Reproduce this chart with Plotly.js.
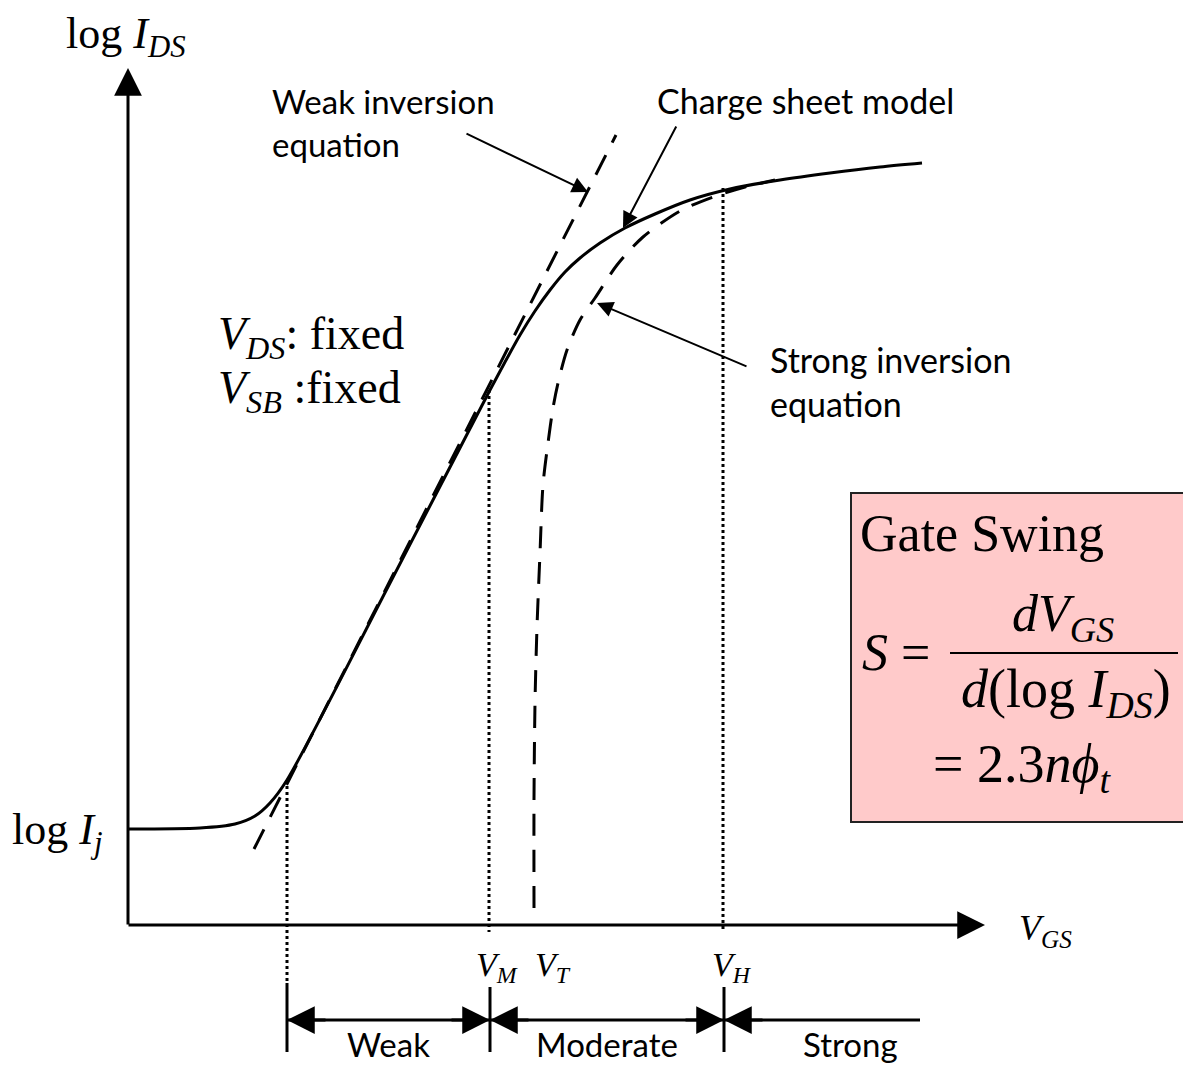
<!DOCTYPE html>
<html>
<head>
<meta charset="utf-8">
<script src="https://cdn.plot.ly/plotly-3.0.1.min.js"></script>
<style>html,body{margin:0;padding:0;background:#fff;}#chart{width:1183px;height:1067px;}</style>
</head>
<body>
<div id="chart"></div>
<script>
// ---- data (drawing units: x to the right, y downward) ----
const chargeSheetX = [128, 200, 235, 255, 270, 287, 390, 490, 505, 520, 535, 550, 565, 580, 600, 625, 655, 690, 730, 780, 830, 880, 922];
const chargeSheetY = [829, 828, 824, 816, 803, 780, 583, 390, 362, 335, 311, 290, 272, 258, 243, 228, 214, 200, 189, 180, 173, 167, 163];

const weakEqX = [254, 616];
const weakEqY = [849, 135];

const strongEqX = [534, 534, 535, 537, 540, 543, 548, 553, 558, 567, 580, 595, 617, 643, 680, 713, 745, 775];
const strongEqY = [908, 800, 703, 627, 553, 485, 443, 408, 383, 350, 320, 298, 265, 237, 211, 197, 187, 180];

// dotted guide lines: x position, top y, bottom y
const guideX = [287, 489, 723];
const guideTop = [780, 390, 188];
const guideBottom = [983, 932, 932];

// region boundaries and names
const regionEdges = [287, 490, 724, 920];
const regionNames = ['Weak', 'Moderate', 'Strong'];

// voltage tick labels
const voltLabels = ['<i>V</i><sub><i>M</i></sub>', '<i>V</i><sub><i>T</i></sub>', '<i>V</i><sub><i>H</i></sub>'];
const voltLabelX = [497, 553, 732];

// ---- traces ----
const serif = 'Liberation Serif, Times New Roman, serif';
const sans = 'Lato, Open Sans, sans-serif';
const traces = [];
for (let i = 0; i < guideX.length; i++) {
  traces.push({x: [guideX[i], guideX[i]], y: [guideTop[i], guideBottom[i]], mode: 'lines',
    line: {color: '#000', width: 3, dash: 'dot'}, hoverinfo: 'skip'});
}
traces.push({x: weakEqX, y: weakEqY, mode: 'lines', line: {color: '#000', width: 3, dash: '22px,14px'}, hoverinfo: 'skip'});
traces.push({x: strongEqX, y: strongEqY, mode: 'lines', line: {color: '#000', width: 3, dash: '22px,14px', shape: 'spline', smoothing: 0.8}, hoverinfo: 'skip'});
traces.push({x: chargeSheetX, y: chargeSheetY, mode: 'lines', line: {color: '#000', width: 3, shape: 'spline', smoothing: 0.8}, hoverinfo: 'skip'});

// ---- shapes ----
const shapes = [
  {type: 'rect', xref: 'x', yref: 'y', x0: 851, x1: 1195, y0: 493, y1: 822, fillcolor: '#FFCACA', line: {color: '#222', width: 2}, layer: 'below'},
  {type: 'line', xref: 'x', yref: 'y', x0: 950, x1: 1178, y0: 653, y1: 653, line: {color: '#000', width: 2}},
  {type: 'line', xref: 'x', yref: 'y', x0: regionEdges[0], x1: regionEdges[3], y0: 1020, y1: 1020, line: {color: '#000', width: 3}}
];
const tickTop = [983, 987, 987];
for (let i = 0; i < 3; i++) {
  shapes.push({type: 'line', xref: 'x', yref: 'y', x0: regionEdges[i], x1: regionEdges[i], y0: tickTop[i], y1: 1052, line: {color: '#000', width: 3}});
}

// ---- annotations ----
const ann = [];
function arrow(tipX, tipY, tailX, tailY, w, size) {
  ann.push({x: tipX, y: tipY, ax: tailX, ay: tailY, xref: 'x', yref: 'y', axref: 'x', ayref: 'y',
    text: '', showarrow: true, arrowhead: 2, arrowsize: size, arrowwidth: w, arrowcolor: '#000', standoff: 0, startstandoff: 0});
}
// axes
arrow(128, 68, 128, 926, 3, 1.85);
arrow(985, 925, 127, 925, 3, 1.85);
// region dimension arrowheads
for (let i = 0; i < 2; i++) {
  arrow(regionEdges[i], 1020, regionEdges[i] + 40, 1020, 3, 1.85);
  arrow(regionEdges[i + 1], 1020, regionEdges[i + 1] - 40, 1020, 3, 1.85);
}
arrow(regionEdges[2], 1020, regionEdges[2] + 40, 1020, 3, 1.85);
// callout arrows
arrow(588, 192, 465, 133, 2, 1.6);
arrow(623, 228, 677, 125, 2, 1.6);
arrow(597, 303, 748, 367, 2, 1.6);

function txt(x, y, text, size, family, xanchor, extra) {
  ann.push(Object.assign({x: x, y: y, xref: 'x', yref: 'y', text: text, showarrow: false,
    xanchor: xanchor || 'center', yanchor: 'middle', align: 'left',
    font: {family: family, size: size, color: '#000'}}, extra || {}));
}
txt(126, 36, 'log <i>I</i><sub><i>DS</i></sub>', 44, serif, 'center');
txt(10, 832, 'log <i>I</i><sub><i>j</i></sub>', 44, serif, 'left');
txt(1045, 930, '<i>V</i><sub><i>GS</i></sub>', 36, serif, 'center');
txt(216, 337, '<i>V</i><sub><i>DS</i></sub>: fixed', 46, serif, 'left');
txt(216, 391, '<i>V</i><sub><i>SB</i></sub> :fixed', 46, serif, 'left');
txt(270, 122, 'Weak inversion<br>equation', 33, sans, 'left');
txt(655, 100, 'Charge sheet model', 34, sans, 'left');
txt(768, 381, 'Strong inversion<br>equation', 34, sans, 'left');
for (let i = 0; i < voltLabels.length; i++) {
  txt(voltLabelX[i], 967, voltLabels[i], 34, serif, 'center');
}
for (let i = 0; i < regionNames.length; i++) {
  const cx = i < 2 ? (regionEdges[i] + regionEdges[i + 1]) / 2 : 850;
  txt(cx, 1066, regionNames[i], 33, sans, 'center', {yanchor: 'bottom'});
}
txt(858, 533, 'Gate Swing', 52, serif, 'left');
txt(860, 652, '<i>S</i> =', 52, serif, 'left');
txt(1063, 617, '<i>dV</i><sub><i>GS</i></sub>', 52, serif, 'center');
txt(1066, 692, '<i>d</i>(log <i>I</i><sub><i>DS</i></sub>)', 54, serif, 'center');
txt(1022, 767, '= 2.3<i>n</i><i>ϕ</i><sub><i>t</i></sub>', 54, serif, 'center');

const layout = {
  width: 1183, height: 1067,
  margin: {l: 0, r: 0, t: 0, b: 0, pad: 0},
  paper_bgcolor: '#fff', plot_bgcolor: '#fff',
  showlegend: false,
  xaxis: {range: [0, 1183], visible: false, fixedrange: true},
  yaxis: {range: [1067, 0], visible: false, fixedrange: true},
  shapes: shapes,
  annotations: ann
};
Plotly.newPlot('chart', traces, layout, {staticPlot: true, displayModeBar: false});
</script>
</body>
</html>
